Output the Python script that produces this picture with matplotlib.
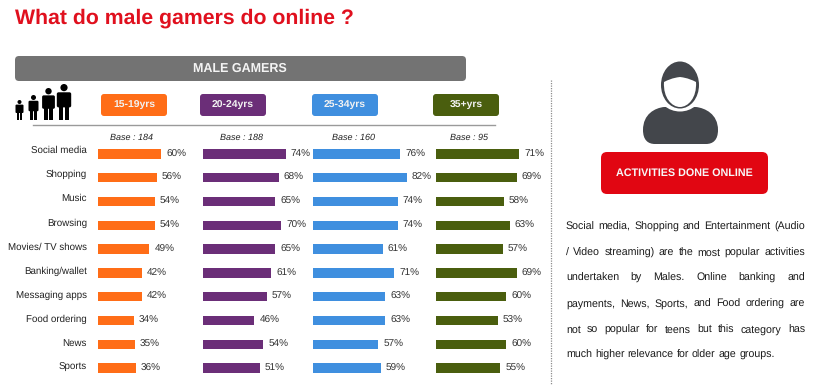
import matplotlib
matplotlib.use("Agg")
import matplotlib.pyplot as plt
from matplotlib.patches import FancyBboxPatch, Circle, Ellipse, Rectangle, PathPatch
from matplotlib.path import Path

plt.rcParams["font.family"] = ["Liberation Sans", "DejaVu Sans"]
plt.rcParams["text.hinting"] = "no_hinting"
plt.rcParams["text.hinting_factor"] = 8

activities = ["Social media", "Shopping", "Music", "Browsing", "Movies/ TV shows",
              "Banking/wallet", "Messaging apps", "Food ordering", "News", "Sports"]
ages = ["15-19yrs", "20-24yrs", "25-34yrs", "35+yrs"]
bases = ["Base : 184", "Base : 188", "Base : 160", "Base : 95"]
age_15_19 = [60, 56, 54, 54, 49, 42, 42, 34, 35, 36]
age_20_24 = [74, 68, 65, 70, 65, 61, 57, 46, 54, 51]
age_25_34 = [76, 82, 74, 74, 61, 71, 63, 63, 57, 59]
age_35_up = [71, 69, 58, 63, 57, 69, 60, 53, 60, 55]
series = [age_15_19, age_20_24, age_25_34, age_35_up]
colors = ["#FF6D17", "#6B2E78", "#3F8FDF", "#4A5E0E"]
body_lines = [
    "Social media, Shopping and Entertainment (Audio",
    "/ Video streaming) are the most popular activities",
    "undertaken by Males. Online banking and",
    "payments, News, Sports, and Food ordering are",
    "not so popular for teens but this category has",
    "much higher relevance for older age groups.",
]

W, H = 814, 385
fig = plt.figure(figsize=(W / 100, H / 100), dpi=100)
bg = fig.add_axes([0, 0, 1, 1])
bg.set_xlim(0, W)
bg.set_ylim(H, 0)
bg.axis("off")


def rbox(x, y, w, h, color, r=3):
    bg.add_patch(FancyBboxPatch((x + r, y + r), w - 2 * r, h - 2 * r,
                                boxstyle="round,pad=%d,rounding_size=%d" % (r, r),
                                fc=color, ec="none"))


def person(x, foot, h):
    # little figure of the family icon
    u = h / 10
    bg.add_patch(Circle((x, foot - 9 * u), 1.0 * u, fc="black", ec="none"))
    bg.add_patch(FancyBboxPatch((x - 1.5 * u, foot - 7.2 * u), 3 * u, 3.2 * u,
                                boxstyle="round,pad=%.2f,rounding_size=%.2f" % (0.5 * u, 0.5 * u),
                                fc="black", ec="none"))
    bg.add_patch(Rectangle((x - 1.3 * u, foot - 4.5 * u), 1.15 * u, 4.5 * u, fc="black", ec="none"))
    bg.add_patch(Rectangle((x + 0.15 * u, foot - 4.5 * u), 1.15 * u, 4.5 * u, fc="black", ec="none"))


# title and header
bg.text(15, 24, "What do male gamers do online ?", color="#E0101E", fontsize=15.3,
        fontweight="bold", va="baseline", ha="left")
rbox(15, 56, 451, 25, "#737373", r=4)
bg.text(240, 68.5, "MALE GAMERS", color="#F4F4F4", fontsize=9, fontweight="bold",
        va="center", ha="center")

for px, ph in zip([19.5, 33.5, 48.5, 64], [20, 25, 32, 36]):
    person(px, 120, ph)

bg.plot([33, 495], [124.7, 124.7], color="#9A9A9A", lw=1)
bg.plot([551, 551], [80, 385], color="#8C8C8C", lw=0.9, ls=(0, (1, 1)))

starts = [97.5, 203, 313, 436]
widths = [106, 111.5, 114.5, 117]
box_x = [101, 200, 312, 433]
base_x = [132, 241.5, 354, 469.5]

for i in range(4):
    ax = fig.add_axes([starts[i] / W, 1 - 380 / H, widths[i] / W, 238 / H])
    y = list(range(len(activities)))
    ax.barh(y, series[i], height=0.4, color=colors[i])
    ax.set_xlim(0, 100)
    ax.set_ylim(9.5, -0.5)
    ax.patch.set_alpha(0)
    for s in ax.spines.values():
        s.set_visible(False)
    ax.set_xticks([])
    ax.set_yticks([])
    for yy, v in zip(y, series[i]):
        ax.annotate("%d%%" % v, (v, yy), xytext=(3.6, 0), textcoords="offset points",
                    fontsize=7.2, color="#333333", va="center", ha="left")

    rbox(box_x[i], 94, 66, 22, colors[i], r=3)
    bg.text(box_x[i] + 33, 105, ages[i], color="#F2F2F2", fontsize=7.5, fontweight="bold",
            va="center", ha="center")
    bg.text(base_x[i], 137.7, bases[i], fontsize=6.5, style="italic", color="#222222",
            va="center", ha="center")

# category labels sit on their own spacing, a bit above the bars at the top
for n, name in enumerate(activities):
    bg.text(87, 153 + n * 24.15, name, fontsize=7.0, color="#222222", va="baseline", ha="right")

# right side person icon
dark = "#43464B"
body = [(643, 130), (643, 114), (655, 108), (664, 107), (680, 107), (696, 107),
        (705, 108), (718, 114), (718, 130), (718, 140), (713, 144), (706, 144),
        (655, 144), (648, 144), (643, 140), (643, 130)]
codes = [Path.MOVETO, Path.CURVE4, Path.CURVE4, Path.CURVE4, Path.LINETO, Path.LINETO,
         Path.CURVE4, Path.CURVE4, Path.CURVE4, Path.CURVE4, Path.CURVE4, Path.CURVE4,
         Path.LINETO, Path.CURVE4, Path.CURVE4, Path.CURVE4]
bg.add_patch(PathPatch(Path(body, codes), fc=dark, ec="none"))
bg.add_patch(Ellipse((680, 92), 44, 39, fc="white", ec="none", zorder=3))
bg.add_patch(Ellipse((680, 85), 38, 47, fc=dark, ec="none", zorder=4))
face = [(664, 82), (668, 80), (672, 78), (680, 77), (688, 78), (692, 80), (696, 82),
        (697, 98), (688, 107), (680, 107), (672, 107), (663, 98), (664, 82)]
face_codes = [Path.MOVETO, Path.CURVE4, Path.CURVE4, Path.CURVE4, Path.CURVE4, Path.CURVE4,
              Path.CURVE4, Path.CURVE4, Path.CURVE4, Path.CURVE4, Path.CURVE4, Path.CURVE4, Path.CURVE4]
bg.add_patch(PathPatch(Path(face, face_codes), fc="white", ec="none", zorder=5))

rbox(601, 152, 167, 42, "#E10612", r=6)
bg.text(684.5, 173, "ACTIVITIES DONE ONLINE", color="#F7F7F7", fontsize=7.75,
        fontweight="bold", va="center", ha="center")

# justified paragraph, one word at a time
line_y = [230, 256, 281, 307, 333, 358]
left, right = 566, 805
renderer = fig.canvas.get_renderer()
for n, (line, ly) in enumerate(zip(body_lines, line_y)):
    words = line.split()
    arts = [bg.text(0, ly, w, fontsize=7.65, color="#1A1A1A", va="baseline", ha="left") for w in words]
    ws = [a.get_window_extent(renderer).width for a in arts]
    if n == len(body_lines) - 1:
        gap = 3.0
    else:
        gap = (right - left - sum(ws)) / (len(words) - 1)
    x = left
    for a, w in zip(arts, ws):
        a.set_x(x)
        x += w + gap

fig.savefig("out.png", dpi=100)
